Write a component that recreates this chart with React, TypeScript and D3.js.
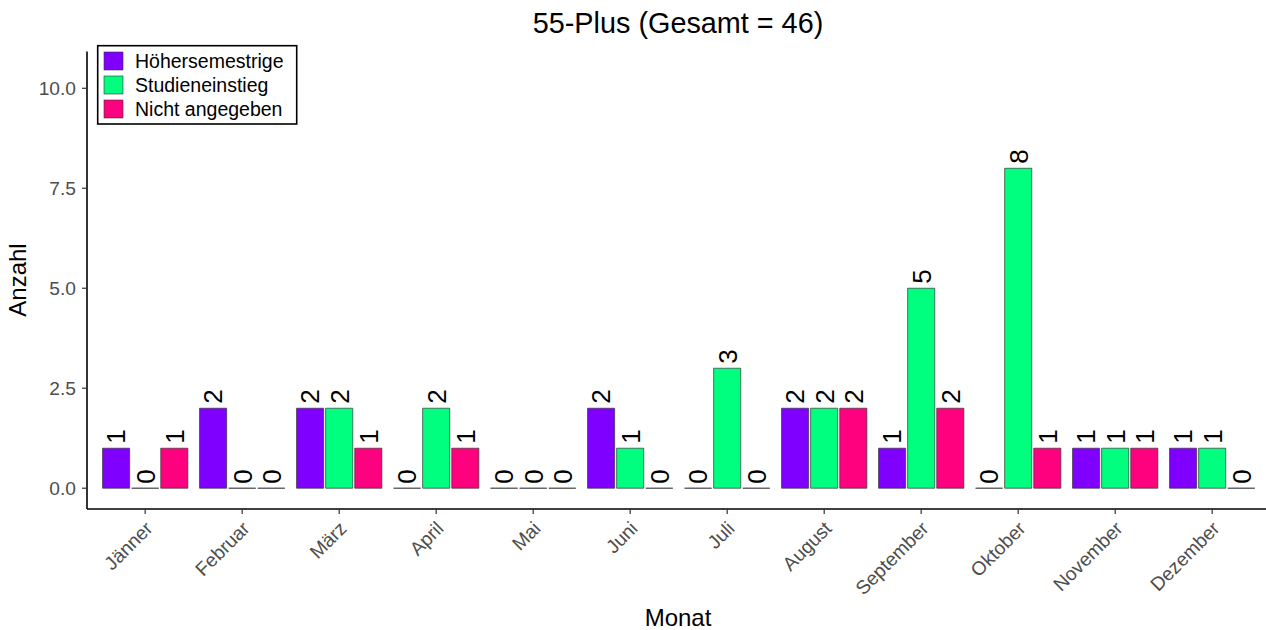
import React, { useEffect, useRef } from "react";
import * as d3 from "d3";

const months = ["Jänner", "Februar", "März", "April", "Mai", "Juni", "Juli", "August", "September", "Oktober", "November", "Dezember"];
const seriesNames = ["Höhersemestrige", "Studieneinstieg", "Nicht angegeben"];
const seriesColors = ["#7F00FF", "#00FF7F", "#FF007F"];
const hoehersemestrige = [1, 2, 2, 0, 0, 2, 0, 2, 1, 0, 1, 1];
const studieneinstieg = [0, 0, 2, 2, 0, 1, 3, 2, 5, 8, 1, 1];
const nichtAngegeben = [1, 0, 1, 1, 0, 0, 0, 2, 2, 1, 1, 0];
const yTicks = [0, 2.5, 5, 7.5, 10];
const title = "55-Plus (Gesamt = 46)";
const xTitle = "Monat";
const yTitle = "Anzahl";

const W = 1266;
const H = 630;
const FONT = "'Liberation Sans', Arial, Helvetica, sans-serif";

export default function App() {
  const ref = useRef<SVGSVGElement | null>(null);

  useEffect(() => {
    const svg = d3.select(ref.current);
    svg.selectAll("*").remove();

    const left = 87;
    const bottom = 509;
    const top = 51.5;
    const step = 97;
    const right = left + 12.2 * step;

    const x = d3.scaleBand<string>().domain(months).range([left, right]).paddingInner(0).paddingOuter(0.1);
    const xs = d3.scaleBand<string>().domain(seriesNames).range([-0.45 * x.step(), 0.45 * x.step()]);
    const y = d3.scaleLinear().domain([-0.52, 10.92]).range([bottom, top]);

    const values = [hoehersemestrige, studieneinstieg, nichtAngegeben];
    const rows = months.flatMap((m, i) =>
      seriesNames.map((s, j) => ({ m, s, j, v: values[j][i] }))
    );

    const g = svg.append("g");
    const barW = xs.bandwidth() - 2;

    g.selectAll("path.bar")
      .data(rows)
      .join("path")
      .attr("class", "bar")
      .attr("d", (d) => {
        const bx = x(d.m)! + x.bandwidth() / 2 + xs(d.s)! + 1;
        const y0 = y(0);
        const y1 = y(d.v);
        return `M${bx},${y0}V${y1}H${bx + barW}V${y0}Z`;
      })
      .attr("fill", (d) => seriesColors[d.j])
      .attr("stroke", "#333333")
      .attr("stroke-width", 0.7);

    g.selectAll("text.lbl")
      .data(rows)
      .join("text")
      .attr("class", "lbl")
      .attr("transform", (d) => {
        const cx = x(d.m)! + x.bandwidth() / 2 + xs(d.s)! + xs.bandwidth() / 2;
        return `translate(${cx},${y(d.v) - 4.5}) rotate(-90)`;
      })
      .attr("dy", "0.358em")
      .attr("text-anchor", "start")
      .attr("font-family", FONT)
      .attr("font-size", 26)
      .attr("fill", "#000")
      .text((d) => String(d.v));

    // axes
    g.append("line").attr("x1", left).attr("x2", left).attr("y1", top).attr("y2", bottom).attr("stroke", "#000").attr("stroke-width", 1.6);
    g.append("line").attr("x1", left).attr("x2", right).attr("y1", bottom).attr("y2", bottom).attr("stroke", "#000").attr("stroke-width", 1.6);

    yTicks.forEach((t) => {
      g.append("line").attr("x1", left - 5).attr("x2", left).attr("y1", y(t)).attr("y2", y(t)).attr("stroke", "#333").attr("stroke-width", 1.2);
      g.append("text")
        .attr("x", left - 11)
        .attr("y", y(t))
        .attr("dy", "0.36em")
        .attr("text-anchor", "end")
        .attr("font-family", FONT)
        .attr("font-size", 19.2)
        .attr("fill", "#4D4D4D")
        .text(d3.format(".1f")(t));
    });

    months.forEach((m) => {
      const cx = x(m)! + x.bandwidth() / 2;
      g.append("line").attr("x1", cx).attr("x2", cx).attr("y1", bottom).attr("y2", bottom + 5).attr("stroke", "#333").attr("stroke-width", 1.2);
      g.append("text")
        .attr("transform", `translate(${cx - 1},${520}) rotate(-45)`)
        .attr("dy", "0.71em")
        .attr("text-anchor", "end")
        .attr("font-family", FONT)
        .attr("font-size", 19.2)
        .attr("fill", "#4D4D4D")
        .text(m);
    });

    // titles
    g.append("text").attr("x", 678).attr("y", 32.5).attr("text-anchor", "middle").attr("font-family", FONT).attr("font-size", 28.8).attr("fill", "#000").text(title);
    g.append("text").attr("x", 678).attr("y", 626).attr("text-anchor", "middle").attr("font-family", FONT).attr("font-size", 24).attr("fill", "#000").text(xTitle);
    g.append("text").attr("transform", `translate(26,280) rotate(-90)`).attr("text-anchor", "middle").attr("font-family", FONT).attr("font-size", 24).attr("fill", "#000").text(yTitle);

    // legend
    const lg = g.append("g");
    lg.append("rect").attr("x", 97.7).attr("y", 45.7).attr("width", 199).attr("height", 78.3).attr("fill", "#fff").attr("stroke", "#000").attr("stroke-width", 1.6);
    seriesNames.forEach((s, i) => {
      const ky = 52 + i * 24;
      lg.append("rect").attr("x", 104).attr("y", ky).attr("width", 19).attr("height", 18).attr("fill", seriesColors[i]).attr("stroke", "#333").attr("stroke-width", 0.6);
      lg.append("text").attr("x", 135).attr("y", ky + 9).attr("dy", "0.36em").attr("font-family", FONT).attr("font-size", 19.5).attr("fill", "#000").text(s);
    });
  }, []);

  return (
    <svg
      ref={ref}
      width={W}
      height={H}
      style={{ position: "absolute", left: 0, top: 0, background: "#fff" }}
    />
  );
}
